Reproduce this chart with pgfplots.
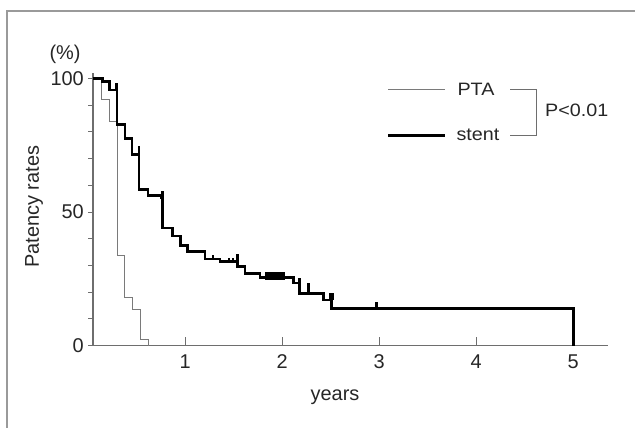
\documentclass[border=0pt]{standalone}
\usepackage{fontspec}
\setmainfont{Liberation Sans}
\newfontfamily\legfont{Liberation Sans}[FakeStretch=1.1]
\usepackage{pgfplots}
\usepackage{pgfplotstable}
\pgfplotsset{compat=1.18}

\definecolor{axisgray}{HTML}{6E6E6E}
\definecolor{ptagray}{HTML}{7A7A7A}
\definecolor{framegray}{HTML}{9A9A9A}

% Kaplan-Meier steps, value held from x until the next row
\pgfplotstableread{
x y
0.05 100
0.137 92.1
0.223 83.8
0.298 33.6
0.378 18.0
0.453 13.6
0.540 2.4
0.625 0
}\ptatable

\pgfplotstableread{
x y
0.05 100
0.148 98.8
0.223 95.6
0.298 82.8
0.378 77.5
0.453 71.5
0.525 58.4
0.618 56.1
0.756 55.3
0.767 44.0
0.868 41.0
0.955 37.4
1.027 35.3
1.203 32.5
1.358 31.5
1.537 29.6
1.616 27.1
1.771 25.5
2.115 23.4
2.176 19.6
2.424 17.1
2.511 13.9
5.004 0
}\stenttable

% censored cases: short upward ticks, one segment per case
\pgfplotstableread{
x y
0.290 95.6
0.290 98.1
nan nan
0.525 71.5
0.525 74.6
nan nan
0.766 55.3
0.766 57.8
nan nan
1.289 32.5
1.289 33.8
nan nan
1.451 31.5
1.451 32.8
nan nan
1.495 31.5
1.495 32.8
nan nan
1.537 31.5
1.537 34.3
nan nan
2.176 23.4
2.176 25.3
nan nan
2.269 19.6
2.269 23.4
nan nan
2.493 17.1
2.493 19.9
nan nan
2.521 17.1
2.521 19.9
nan nan
2.975 13.9
2.975 16.5
}\censtable

\begin{document}
\begin{tikzpicture}[x=1bp,y=1bp]
\useasboundingbox (0,0) rectangle (635,427);
\draw[framegray, line width=1.3bp] (7,-5) -- (7,416) -- (640,416);

\begin{axis}[
  at={(93bp,81.3bp)}, anchor=south west,
  scale only axis, width=515bp, height=272.7bp,
  xmin=0.05, xmax=5.36, ymin=0, ymax=102,
  axis lines=left,
  axis line style={-, draw=axisgray, line width=1.1bp},
  every tick/.style={axisgray, line width=1bp},
  major tick length=5bp, minor tick length=5bp,
  xtick=\empty,
  extra x ticks={1,2,3,4,5},
  extra x tick style={major tick length=9bp, tick align=inside},
  ytick={0,50,100}, minor ytick={10,20,30,40,60,70,80,90},
  ytick align=outside,
  unbounded coords=jump,
  /pgf/number format/assume math mode=true,
  tick label style={font=\fontsize{20}{24}\selectfont, text=black!85},
  xticklabel style={anchor=north, inner sep=0pt, yshift=-9bp},
  yticklabel style={anchor=east, inner sep=0pt, xshift=-4bp},
  clip=false,
]
\addplot[const plot, draw=ptagray, line width=1bp] table[x=x, y=y] {\ptatable};
\addplot[const plot, draw=black, line width=2.6bp] table[x=x, y=y] {\stenttable};
\addplot[draw=black, line width=2.6bp, mark=none, forget plot] table[x=x, y=y] {\censtable};
\addplot[fill=black, draw=none] coordinates {(1.826,24.4) (2.03,24.4) (2.03,27.7) (1.826,27.7)} -- cycle;
\end{axis}

% texts around the axis
\node[font=\fontsize{20}{24}\selectfont, text=black!85] at (65,373) {(\%)};
\node[font=\fontsize{20}{24}\selectfont, text=black!85, rotate=90] at (34,220.3) {Patency rates};
\node[font=\fontsize{20}{24}\selectfont, text=black!85, anchor=base] at (335,27) {years};

% legend with bracket
\draw[ptagray, line width=1bp] (388,338) -- (445,338);
\draw[black, line width=2.6bp] (388,291.3) -- (445,291.3);
\node[font=\legfont\fontsize{18}{22}\selectfont, text=black!85] at (476,338) {PTA};
\node[font=\legfont\fontsize{18}{22}\selectfont, text=black!85] at (478,292) {stent};
\draw[axisgray, line width=0.9bp] (510,338) -- (536,338) -- (536,291.3) -- (510,291.3);
\node[font=\legfont\fontsize{18}{22}\selectfont, text=black!85, anchor=west, inner sep=0pt] at (545,316.7) {P<0.01};
\end{tikzpicture}
\end{document}
